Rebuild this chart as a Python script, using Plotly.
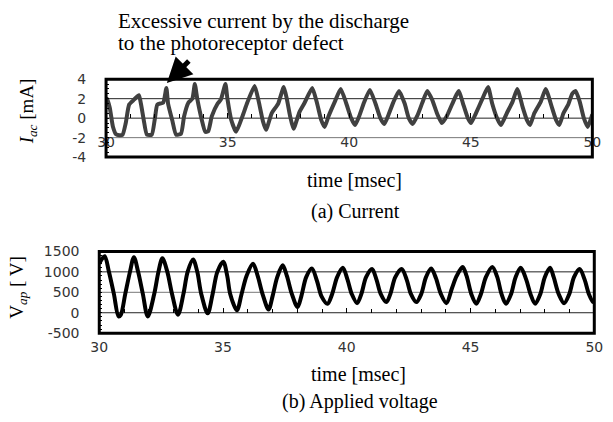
import plotly.graph_objects as go

# ---- data ----
t_cur = [30.0, 30.03, 30.15, 30.28, 30.41, 30.55, 30.68, 30.81, 30.95, 31.15, 31.35, 31.44, 31.55, 31.68, 31.88,
         32.01, 32.11, 32.35, 32.48, 32.55, 32.72, 32.88, 33.08, 33.21, 33.39, 33.55, 33.65, 33.75, 33.92, 34.08,
         34.2, 34.35, 34.59, 34.72, 34.91, 34.99, 35.15, 35.35, 35.61, 35.81, 36.11, 36.28, 36.45, 36.58, 36.81,
         37.08, 37.31, 37.44, 37.57, 37.71, 37.95, 38.15, 38.48, 38.68, 38.85, 38.99, 39.15, 39.41, 39.65, 39.88,
         40.08, 40.24, 40.41, 40.61, 40.85, 41.08, 41.28, 41.44, 41.61, 41.81, 42.05, 42.28, 42.45, 42.61, 42.81,
         43.01, 43.21, 43.41, 43.61, 43.81, 44.01, 44.28, 44.41, 44.51, 44.68, 44.88, 45.01, 45.21, 45.48, 45.71,
         45.88, 46.08, 46.24, 46.48, 46.72, 46.91, 47.15, 47.31, 47.44, 47.61, 47.88, 48.08, 48.35, 48.51, 48.64,
         48.81, 49.01, 49.17, 49.31, 49.48, 49.65, 49.81, 49.95, 50.0]
i_cur = [2.0, 2.0, 1.1, -0.85, -1.65, -1.75, -1.7, -0.5, 1.4, 1.9, 2.35, 1.4, -0.2, -1.7, -1.7,
         0.0, 1.4, 1.6, 3.1, 1.5, -0.2, -1.7, -1.6, 0.2, 1.6, 2.0, 3.5, 2.0, 0.0, -1.4,
         -1.35, 0.2, 1.5, 1.9, 3.5, 2.0, -0.2, -1.4, 0.2, 1.6, 3.3, 1.7, -0.3, -1.2, 0.5,
         1.5, 3.2, 1.9, 0.2, -1.1, 0.6, 1.5, 3.1, 1.5, -0.2, -0.9, 0.2, 1.7, 3.0, 1.5,
         0.0, -0.7, 0.2, 1.6, 2.9, 1.5, 0.0, -0.6, 0.3, 1.6, 2.8, 1.5, 0.0, -0.6, 0.3,
         1.6, 2.8, 1.9, 0.5, -0.5, 0.2, 1.7, 2.4, 2.8, 1.5, 0.0, -0.5, 0.5, 2.0, 3.2,
         1.5, 0.0, -0.7, 0.5, 1.7, 3.0, 1.0, -0.2, -0.7, 0.5, 1.7, 3.0, 1.0, -0.2, -0.7,
         0.5, 1.4, 2.5, 2.8, 1.7, 0.0, -0.9, 0.0, 0.4]

t_volt = [30.0, 30.07, 30.22, 30.39, 30.59, 30.78, 30.87, 31.05, 31.24, 31.4, 31.57, 31.76, 31.96, 32.22, 32.39,
          32.55, 32.75, 32.94, 33.18, 33.4, 33.57, 33.79, 33.96, 34.12, 34.38, 34.58, 34.77, 35.01, 35.17, 35.29,
          35.56, 35.75, 35.95, 36.21, 36.4, 36.6, 36.84, 37.0, 37.19, 37.41, 37.58, 37.78, 38.01, 38.17, 38.36,
          38.59, 38.8, 38.98, 39.22, 39.41, 39.61, 39.84, 40.03, 40.2, 40.42, 40.59, 40.78, 41.02, 41.2, 41.37,
          41.6, 41.76, 41.96, 42.22, 42.42, 42.59, 42.81, 43.01, 43.2, 43.41, 43.6, 43.8, 44.03, 44.25, 44.44,
          44.68, 44.84, 45.03, 45.23, 45.42, 45.62, 45.88, 46.08, 46.25, 46.43, 46.64, 46.82, 47.03, 47.25, 47.42,
          47.61, 47.82, 48.0, 48.21, 48.36, 48.56, 48.78, 48.99, 49.18, 49.41, 49.61, 49.78, 49.96, 50.0]
v_app = [1200, 1280, 1380, 1000, 460, -90, -50, 460, 1000, 1360, 1000, 460, -90, 460, 1000,
         1330, 1000, 460, -50, 460, 1000, 1300, 1000, 460, -15, 460, 1000, 1250, 900, 460,
         60, 460, 900, 1200, 900, 450, 80, 400, 870, 1160, 900, 460, 140, 420, 870,
         1080, 770, 400, 220, 460, 870, 1100, 810, 460, 235, 460, 870, 1070, 810, 460,
         260, 460, 870, 1070, 810, 460, 260, 460, 870, 1080, 850, 460, 235, 600, 900,
         1120, 900, 460, 220, 460, 870, 1120, 870, 460, 220, 460, 870, 1100, 810, 460,
         220, 460, 870, 1100, 870, 460, 235, 460, 870, 1070, 810, 460, 260, 280]

x_range = [30, 50]
x_ticks = [30, 35, 40, 45, 50]
cur_range = [-4, 4]
cur_ticks = [4, 2, 0, -2, -4]
cur_grid = [2, 0, -2]
volt_range = [-500, 1500]
volt_ticks = [1500, 1000, 500, 0, -500]
volt_grid = [1000, 500, 0]

W, H = 613, 422
dom_x1 = [100 / W, 601 / W]
dom_y1 = [1 - 155 / H, 1 - 74 / H]
dom_x2 = [93 / W, 603 / W]
dom_y2 = [1 - 338 / H, 1 - 253 / H]


def zero_pos(dom, rng):
    return dom[0] + (0 - rng[0]) / (rng[1] - rng[0]) * (dom[1] - dom[0])


SANS = "DejaVu Sans"
SERIF = "Liberation Serif"
TICKFONT = dict(family=SANS, size=14, color="#333333")

fig = go.Figure()
fig.add_trace(go.Scatter(x=t_cur, y=i_cur, mode="lines", xaxis="x", yaxis="y",
                         line=dict(color="#404040", width=4, shape="spline", smoothing=0.5),
                         showlegend=False, hoverinfo="skip"))
fig.add_trace(go.Scatter(x=t_volt, y=v_app, mode="lines", xaxis="x2", yaxis="y2",
                         line=dict(color="#000000", width=4, shape="spline", smoothing=0.9),
                         showlegend=False, hoverinfo="skip"))


def xaxis(dom, pos, standoff):
    return dict(domain=dom, range=x_range, anchor="free", position=pos,
                tickvals=x_ticks, ticktext=[str(v) for v in x_ticks],
                ticks="inside", ticklen=5, tickwidth=1, tickcolor="#000",
                minor=dict(dtick=1, ticks="inside", ticklen=4, tickwidth=1, tickcolor="#000"),
                ticklabelstandoff=standoff, showline=False, showgrid=False, zeroline=False,
                tickfont=TICKFONT, fixedrange=True)


def yaxis(dom, rng, ticks, minor_dt, anchor):
    return dict(domain=dom, range=rng, anchor=anchor, tickvals=ticks, ticktext=[str(v) for v in ticks],
                ticks="outside", ticklen=16, tickcolor="rgba(0,0,0,0)",
                showgrid=False, zeroline=False, showline=False,
                minor=dict(dtick=minor_dt, ticks="inside", ticklen=3, tickwidth=1, tickcolor="#000"),
                tickfont=TICKFONT, fixedrange=True)


fig.update_layout(
    width=W, height=H, margin=dict(l=0, r=0, t=0, b=0), autosize=False,
    paper_bgcolor="white", plot_bgcolor="white",
    xaxis=xaxis(dom_x1, zero_pos(dom_y1, cur_range), 14),
    yaxis=yaxis(dom_y1, cur_range, cur_ticks, 0.5, "x"),
    xaxis2=xaxis(dom_x2, zero_pos(dom_y2, volt_range), 24),
    yaxis2=yaxis(dom_y2, volt_range, volt_ticks, 100, "x2"),
)

shapes = []
for g in cur_grid:
    shapes.append(dict(type="line", xref="x domain", yref="y", x0=0, x1=1, y0=g, y1=g,
                       line=dict(color="#222222" if g != -2 else "#777777", width=1), layer="below"))
for g in volt_grid:
    shapes.append(dict(type="line", xref="x2 domain", yref="y2", x0=0, x1=1, y0=g, y1=g,
                       line=dict(color="#222222" if g != 500 else "#777777", width=1), layer="below"))
shapes.append(dict(type="rect", xref="x domain", yref="y domain", x0=0, x1=1, y0=0, y1=1,
                   line=dict(color="#000", width=3)))
shapes.append(dict(type="rect", xref="x2 domain", yref="y2 domain", x0=0, x1=1, y0=0, y1=1,
                   line=dict(color="#000", width=3)))
fig.update_layout(shapes=shapes)

TXT = dict(family=SERIF, size=20, color="#000")


def label(text, cx, cy, font, angle=0):
    return dict(text=text, xref="paper", yref="paper", x=cx / W, y=1 - cy / H,
                xanchor="center", yanchor="middle", textangle=angle, showarrow=False, font=font)


def left_label(text, lx, cy, font):
    return dict(text=text, xref="paper", yref="paper", x=lx / W, y=1 - cy / H,
                xanchor="left", yanchor="middle", showarrow=False, font=font)


BIG = dict(family=SERIF, size=21, color="#000")
YT = dict(family=SERIF, size=19, color="#000")
ann = [
    left_label("Excessive current by the discharge", 110, 14, BIG),
    left_label("to the photoreceptor defect", 110, 36, BIG),
    dict(text=" ", xref="x", yref="y", x=32.5, y=3.6, ax=25, ay=-25, showarrow=True,
         arrowhead=2, arrowsize=1.0, arrowwidth=5, arrowcolor="#000"),
    label("<i>I</i><sub><i>ac</i></sub> [mA]", 20, 107, YT, -90),
    label("time [msec]", 356, 179, TXT),
    label("(a) Current", 357, 211, TXT),
    label("V<sub><i>ap</i></sub> [ V]", 9, 290, YT, -90),
    label("time [msec]", 360, 380, TXT),
    label("(b) Applied voltage", 362, 409, TXT),
]
fig.update_layout(annotations=ann)

fig.write_html("out.html")
